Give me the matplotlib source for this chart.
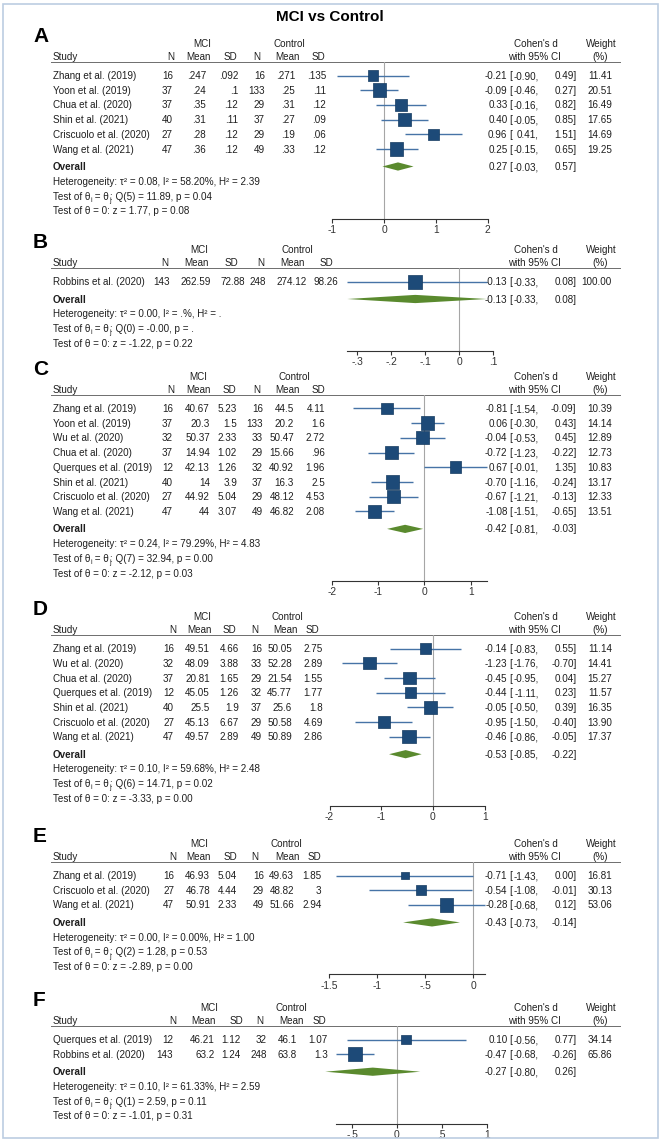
import matplotlib
matplotlib.use("Agg")
import matplotlib.pyplot as plt
import numpy as np
from matplotlib.patches import Rectangle

plt.rcParams["font.family"] = ["Liberation Sans", "DejaVu Sans"]

# --- A ---
A_STUDY = ["Zhang et al. (2019)", "Yoon et al. (2019)", "Chua et al. (2020)",
           "Shin et al. (2021)", "Criscuolo et al. (2020)", "Wang et al. (2021)"]
A_N1 = [16, 37, 37, 40, 27, 47]
A_MEAN1 = [.247, .24, .35, .31, .28, .36]
A_SD1 = [.092, .1, .12, .11, .12, .12]
A_N2 = [16, 133, 29, 37, 29, 49]
A_MEAN2 = [.271, .25, .31, .27, .19, .33]
A_SD2 = [.135, .11, .12, .09, .06, .12]
A_D = [-0.21, -0.09, 0.33, 0.40, 0.96, 0.25]
A_LO = [-0.90, -0.46, -0.16, -0.05, 0.41, -0.15]
A_HI = [0.49, 0.27, 0.82, 0.85, 1.51, 0.65]
A_W = [11.41, 20.51, 16.49, 17.65, 14.69, 19.25]
A_OVERALL = [0.27, -0.03, 0.57]
A_HET = ["0.08", "58.20", "2.39"]
A_Q = ["5", "11.89", "0.04"]
A_Z = ["1.77", "0.08"]
A_TICKS = [-1, 0, 1, 2]

# --- B ---
B_STUDY = ["Robbins et al. (2020)"]
B_N1 = [143]
B_MEAN1 = [262.59]
B_SD1 = [72.88]
B_N2 = [248]
B_MEAN2 = [274.12]
B_SD2 = [98.26]
B_D = [-0.13]
B_LO = [-0.33]
B_HI = [0.08]
B_W = [100.00]
B_OVERALL = [-0.13, -0.33, 0.08]
B_HET = ["0.00", ".", "."]
B_Q = ["0", "-0.00", "."]
B_Z = ["-1.22", "0.22"]
B_TICKS = [-.3, -.2, -.1, 0, .1]

# --- C ---
C_STUDY = ["Zhang et al. (2019)", "Yoon et al. (2019)", "Wu et al. (2020)",
           "Chua et al. (2020)", "Querques et al. (2019)", "Shin et al. (2021)",
           "Criscuolo et al. (2020)", "Wang et al. (2021)"]
C_N1 = [16, 37, 32, 37, 12, 40, 27, 47]
C_MEAN1 = [40.67, 20.3, 50.37, 14.94, 42.13, 14, 44.92, 44]
C_SD1 = [5.23, 1.5, 2.33, 1.02, 1.26, 3.9, 5.04, 3.07]
C_N2 = [16, 133, 33, 29, 32, 37, 29, 49]
C_MEAN2 = [44.5, 20.2, 50.47, 15.66, 40.92, 16.3, 48.12, 46.82]
C_SD2 = [4.11, 1.6, 2.72, .96, 1.96, 2.5, 4.53, 2.08]
C_D = [-0.81, 0.06, -0.04, -0.72, 0.67, -0.70, -0.67, -1.08]
C_LO = [-1.54, -0.30, -0.53, -1.23, -0.01, -1.16, -1.21, -1.51]
C_HI = [-0.09, 0.43, 0.45, -0.22, 1.35, -0.24, -0.13, -0.65]
C_W = [10.39, 14.14, 12.89, 12.73, 10.83, 13.17, 12.33, 13.51]
C_OVERALL = [-0.42, -0.81, -0.03]
C_HET = ["0.24", "79.29", "4.83"]
C_Q = ["7", "32.94", "0.00"]
C_Z = ["-2.12", "0.03"]
C_TICKS = [-2, -1, 0, 1]

# --- D ---
D_STUDY = ["Zhang et al. (2019)", "Wu et al. (2020)", "Chua et al. (2020)",
           "Querques et al. (2019)", "Shin et al. (2021)", "Criscuolo et al. (2020)",
           "Wang et al. (2021)"]
D_N1 = [16, 32, 37, 12, 40, 27, 47]
D_MEAN1 = [49.51, 48.09, 20.81, 45.05, 25.5, 45.13, 49.57]
D_SD1 = [4.66, 3.88, 1.65, 1.26, 1.9, 6.67, 2.89]
D_N2 = [16, 33, 29, 32, 37, 29, 49]
D_MEAN2 = [50.05, 52.28, 21.54, 45.77, 25.6, 50.58, 50.89]
D_SD2 = [2.75, 2.89, 1.55, 1.77, 1.8, 4.69, 2.86]
D_D = [-0.14, -1.23, -0.45, -0.44, -0.05, -0.95, -0.46]
D_LO = [-0.83, -1.76, -0.95, -1.11, -0.50, -1.50, -0.86]
D_HI = [0.55, -0.70, 0.04, 0.23, 0.39, -0.40, -0.05]
D_W = [11.14, 14.41, 15.27, 11.57, 16.35, 13.90, 17.37]
D_OVERALL = [-0.53, -0.85, -0.22]
D_HET = ["0.10", "59.68", "2.48"]
D_Q = ["6", "14.71", "0.02"]
D_Z = ["-3.33", "0.00"]
D_TICKS = [-2, -1, 0, 1]

# --- E ---
E_STUDY = ["Zhang et al. (2019)", "Criscuolo et al. (2020)", "Wang et al. (2021)"]
E_N1 = [16, 27, 47]
E_MEAN1 = [46.93, 46.78, 50.91]
E_SD1 = [5.04, 4.44, 2.33]
E_N2 = [16, 29, 49]
E_MEAN2 = [49.63, 48.82, 51.66]
E_SD2 = [1.85, 3, 2.94]
E_D = [-0.71, -0.54, -0.28]
E_LO = [-1.43, -1.08, -0.68]
E_HI = [0.00, -0.01, 0.12]
E_W = [16.81, 30.13, 53.06]
E_OVERALL = [-0.43, -0.73, -0.14]
E_HET = ["0.00", "0.00", "1.00"]
E_Q = ["2", "1.28", "0.53"]
E_Z = ["-2.89", "0.00"]
E_TICKS = [-1.5, -1, -.5, 0]

# --- F ---
F_STUDY = ["Querques et al. (2019)", "Robbins et al. (2020)"]
F_N1 = [12, 143]
F_MEAN1 = [46.21, 63.2]
F_SD1 = [1.12, 1.24]
F_N2 = [32, 248]
F_MEAN2 = [46.1, 63.8]
F_SD2 = [1.07, 1.3]
F_D = [0.10, -0.47]
F_LO = [-0.56, -0.68]
F_HI = [0.77, -0.26]
F_W = [34.14, 65.86]
F_OVERALL = [-0.27, -0.80, 0.26]
F_HET = ["0.10", "61.33", "2.59"]
F_Q = ["1", "2.59", "0.11"]
F_Z = ["-1.01", "0.31"]
F_TICKS = [-.5, 0, .5, 1]

W_PX, H_PX = 661, 1141
ROW = 14.7  # px between study rows
BL = 3.6 / ROW  # baseline sits this far below a row's centre
TXT = "#1e1e1e"
SQ_COLOR = "#1d4a78"
CI_COLOR = "#4673a6"
DIAMOND = "#5a8a2e"
ZERO_LINE = "#a6a6a6"
FS = 7.1

# layout per panel: header line y (px), x of zero (px), px per unit,
# column header centres, column value right edges, MCI / Control centres
LAYOUT = {
    "A": dict(top=62, x0=384, ppu=51.8,
              hdr=[171, 198, 230, 257, 287, 318.5], val=[173, 206, 238, 265, 295, 326], grp=[202, 289]),
    "B": dict(top=268, x0=459.5, ppu=340,
              hdr=[165, 196, 231, 261, 292, 326], val=[170, 211, 245, 266, 307, 338], grp=[199, 297]),
    "C": dict(top=395, x0=424.5, ppu=46.2,
              hdr=[171, 198, 229, 256.5, 287, 318], val=[173, 210, 237, 263, 294, 325], grp=[198, 294]),
    "D": dict(top=635, x0=433, ppu=51.7,
              hdr=[173, 199.5, 229, 255, 285, 312], val=[174, 210, 239, 262, 292, 323], grp=[202, 287]),
    "E": dict(top=862, x0=473.4, ppu=96.3,
              hdr=[173, 198, 230, 255, 287, 314], val=[174, 210, 237, 264, 294, 321.5], grp=[199, 286]),
    "F": dict(top=1026, x0=397, ppu=89.6,
              hdr=[173, 203, 236, 260, 291, 319], val=[173, 215, 241, 267, 297, 328], grp=[209, 291]),
}


def sfmt(v):
    s = f"{v:g}"
    if s.startswith("0."):
        s = s[1:]
    elif s.startswith("-0."):
        s = "-" + s[2:]
    return s


def draw_panel(fig, renderer, letter, study, cols, d, lo, hi, w, overall, het, q, z, ticks):
    lay = LAYOUT[letter]
    n = len(study)
    rows = np.arange(n)
    ov = n - 1 + 17.5 / ROW
    y_top = -13.5 / ROW
    y_bot = ov + 52 / ROW
    axis_px = lay["top"] + (y_bot - y_top) * ROW
    bottom = 1 - axis_px / H_PX
    height = (axis_px - lay["top"]) / H_PX

    tab = fig.add_axes([0, bottom, 1, height])
    tab.set_xlim(0, W_PX)
    tab.set_ylim(y_bot, y_top)
    tab.axis("off")

    ax_l, ax_r = 325, 500
    ax = fig.add_axes([ax_l / W_PX, bottom, (ax_r - ax_l) / W_PX, height])
    ax.patch.set_alpha(0)
    ax.set_xlim((ax_l - lay["x0"]) / lay["ppu"], (ax_r - lay["x0"]) / lay["ppu"])
    ax.set_ylim(y_bot, y_top)
    for s in ["left", "top", "right"]:
        ax.spines[s].set_visible(False)
    ax.spines["bottom"].set_bounds(min(ticks[0], min(lo)), max(ticks[-1], max(hi)))
    ax.spines["bottom"].set_linewidth(0.8)
    ax.spines["bottom"].set_color("#333333")
    ax.set_yticks([])
    ax.set_xticks(ticks, [sfmt(t) for t in ticks])
    ax.tick_params(axis="x", direction="out", length=3, width=0.8, pad=1.5,
                   labelsize=7.4, colors="#333333")

    ax.axvline(0, color=ZERO_LINE, lw=0.8, zorder=0)
    ax.hlines(rows, lo, hi, color=CI_COLOR, lw=1.0, zorder=2)
    wmax = max(w)
    side_pt = [13.5 * np.sqrt(wi / wmax) * 0.72 for wi in w]
    ax.scatter(d, rows, marker="s", s=[s ** 2 for s in side_pt], color=SQ_COLOR,
               edgecolor="#153a60", linewidth=0.5, zorder=3)
    oe, olo, ohi = overall
    hh = 0.28
    ax.fill([olo, oe, ohi, oe], [ov, ov - hh, ov, ov + hh], color=DIAMOND, lw=0, zorder=3)

    # table text, placed on baselines
    def put(x, y, s, ha, **extra):
        return tab.text(x, y + BL, s, ha=ha, va="baseline", fontsize=FS, color=TXT, **extra)

    def put_seq(x, y, parts):
        # plain runs and small lowered subscripts, laid out left to right
        for s, sub in parts:
            if sub:
                t = tab.text(x, y + BL + 2.2 / ROW, s, ha="left", va="baseline",
                             fontsize=FS * 0.68, color=TXT)
            else:
                t = put(x, y, s, "left")
            bb = t.get_window_extent(renderer)
            x = tab.transData.inverted().transform((bb.x1, bb.y0))[0]

    def put_ci(y, est, low, high):
        put(507.5, y, f"{est:.2f}", "right")
        put(509.5, y, "[", "left")
        put(538.5, y, f"{low:.2f},", "right")
        put(576.5, y, f"{high:.2f}]", "right")

    tab.text(33, y_top - 25 / ROW, letter, fontsize=15, fontweight="bold", color="black",
             ha="left", va="center")
    g1 = y_top - 19 / ROW
    g2 = y_top - 6 / ROW
    put(lay["grp"][0], g1, "MCI", "center")
    put(lay["grp"][1], g1, "Control", "center")
    put(536, g1, "Cohen's d", "center")
    put(601, g1, "Weight", "center")
    put(53, g2, "Study", "left")
    for xh, lab in zip(lay["hdr"], ["N", "Mean", "SD", "N", "Mean", "SD"]):
        put(xh, g2, lab, "center")
    put(534, g2, "with 95% CI", "center")
    put(600, g2, "(%)", "center")
    tab.hlines(y_top, 51, 621, color="#555555", lw=1.2)

    for i in range(n):
        put(53, i, study[i], "left")
        for xv, col in zip(lay["val"], cols):
            put(xv, i, sfmt(col[i]), "right")
        put_ci(i, d[i], lo[i], hi[i])
        put(612, i, f"{w[i]:.2f}", "right")

    put(53, ov, "Overall", "left", fontweight="bold")
    put_ci(ov, oe, olo, ohi)

    put(53, ov + 1, f"Heterogeneity: τ² = {het[0]}, I² = {het[1]}%, H² = {het[2]}", "left")
    put_seq(53, ov + 2, [("Test of θ", False), ("i", True), (" = θ", False), ("j", True),
                         (f": Q({q[0]}) = {q[1]}, p = {q[2]}", False)])
    put(53, ov + 3, f"Test of θ = 0: z = {z[0]}, p = {z[1]}", "left")


fig = plt.figure(figsize=(W_PX / 100, H_PX / 100), dpi=100)
fig.patch.set_facecolor("white")
renderer = fig.canvas.get_renderer()
fig.add_artist(Rectangle((3 / W_PX, 3 / H_PX), 655 / W_PX, 1134 / H_PX,
                         transform=fig.transFigure, fill=False, edgecolor="#bccde2", lw=1.2))
fig.text(330 / W_PX, 1 - 17 / H_PX, "MCI vs Control", ha="center", va="center",
         fontsize=11, fontweight="bold", color="black")

draw_panel(fig, renderer, "A", A_STUDY, [A_N1, A_MEAN1, A_SD1, A_N2, A_MEAN2, A_SD2],
           A_D, A_LO, A_HI, A_W, A_OVERALL, A_HET, A_Q, A_Z, A_TICKS)
draw_panel(fig, renderer, "B", B_STUDY, [B_N1, B_MEAN1, B_SD1, B_N2, B_MEAN2, B_SD2],
           B_D, B_LO, B_HI, B_W, B_OVERALL, B_HET, B_Q, B_Z, B_TICKS)
draw_panel(fig, renderer, "C", C_STUDY, [C_N1, C_MEAN1, C_SD1, C_N2, C_MEAN2, C_SD2],
           C_D, C_LO, C_HI, C_W, C_OVERALL, C_HET, C_Q, C_Z, C_TICKS)
draw_panel(fig, renderer, "D", D_STUDY, [D_N1, D_MEAN1, D_SD1, D_N2, D_MEAN2, D_SD2],
           D_D, D_LO, D_HI, D_W, D_OVERALL, D_HET, D_Q, D_Z, D_TICKS)
draw_panel(fig, renderer, "E", E_STUDY, [E_N1, E_MEAN1, E_SD1, E_N2, E_MEAN2, E_SD2],
           E_D, E_LO, E_HI, E_W, E_OVERALL, E_HET, E_Q, E_Z, E_TICKS)
draw_panel(fig, renderer, "F", F_STUDY, [F_N1, F_MEAN1, F_SD1, F_N2, F_MEAN2, F_SD2],
           F_D, F_LO, F_HI, F_W, F_OVERALL, F_HET, F_Q, F_Z, F_TICKS)

fig.savefig("out.png", dpi=100, facecolor="white")
